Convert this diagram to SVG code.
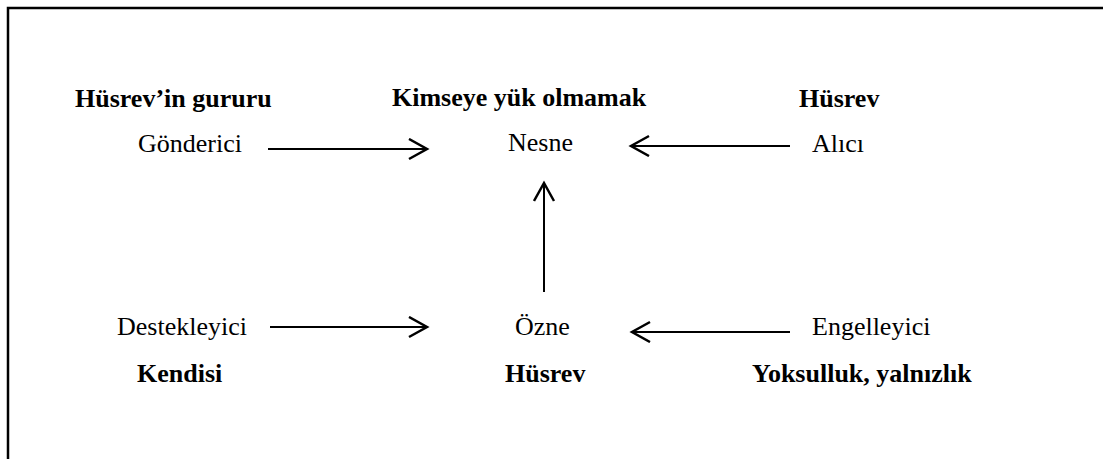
<svg xmlns="http://www.w3.org/2000/svg" width="1103" height="459" viewBox="0 0 1103 459">
<style>
text{font-family:"Liberation Serif","Times New Roman",serif;font-size:26px;fill:#000}
.b{font-weight:bold}
.c{stroke:#000;stroke-width:2;fill:none}
</style>
<defs>
<marker id="ah" markerUnits="userSpaceOnUse" markerWidth="24" markerHeight="24" refX="20" refY="11" orient="auto">
<path d="M2,1 L20,11 L2,21" fill="none" stroke="#000" stroke-width="2.5"/>
</marker>
</defs>
<rect width="1103" height="459" fill="#fff"/>
<path d="M8,459 V8 H1103" fill="none" stroke="#000" stroke-width="2.5"/>
<g id="gonderici">
<text class="b" x="75" y="107">Hüsrev’in gururu</text>
<text x="138" y="152">Gönderici</text>
</g>
<g id="nesne">
<text class="b" x="392" y="106">Kimseye yük olmamak</text>
<text x="508" y="151">Nesne</text>
</g>
<g id="alici">
<text class="b" x="799" y="107">Hüsrev</text>
<text x="812" y="152">Alıcı</text>
</g>
<g id="destekleyici">
<text x="117" y="335">Destekleyici</text>
<text class="b" x="137" y="382">Kendisi</text>
</g>
<g id="ozne">
<text x="515" y="335">Özne</text>
<text class="b" x="505" y="382">Hüsrev</text>
</g>
<g id="engelleyici">
<text x="812" y="335">Engelleyici</text>
<text class="b" x="752" y="382">Yoksulluk, yalnızlık</text>
</g>
<g id="connectors">
<line class="c" x1="268" y1="149" x2="427" y2="149" marker-end="url(#ah)"/>
<line class="c" x1="790" y1="146" x2="631" y2="146" marker-end="url(#ah)"/>
<line class="c" x1="544" y1="292" x2="544" y2="183" marker-end="url(#ah)"/>
<line class="c" x1="270" y1="327" x2="427" y2="327" marker-end="url(#ah)"/>
<line class="c" x1="790" y1="332" x2="632" y2="332" marker-end="url(#ah)"/>
</g>
</svg>
